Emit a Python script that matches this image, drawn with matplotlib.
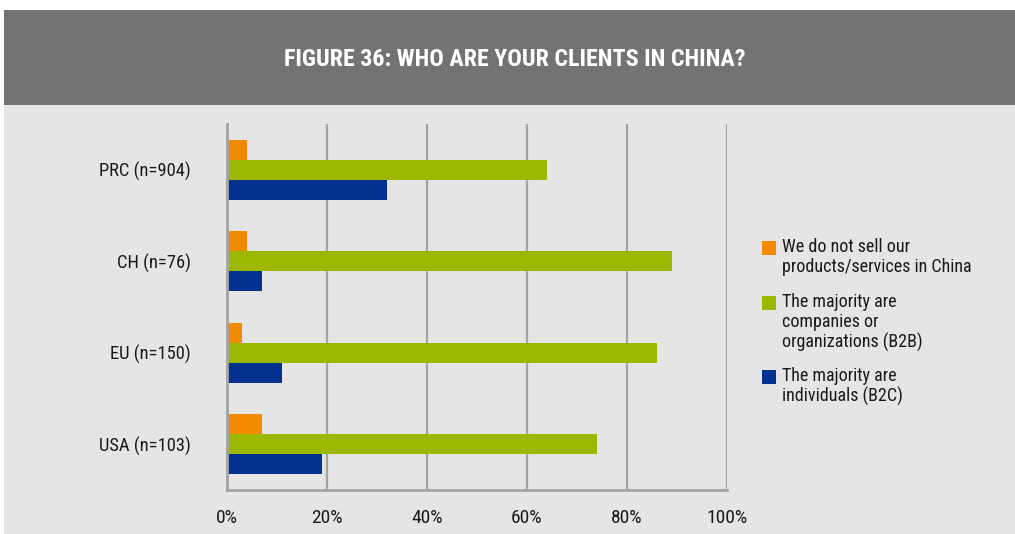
import matplotlib
matplotlib.use("Agg")
import matplotlib.pyplot as plt
from matplotlib.patches import Rectangle
from matplotlib import font_manager
import numpy as np

categories = ["PRC (n=904)", "CH (n=76)", "EU (n=150)", "USA (n=103)"]
not_selling = [4, 4, 3, 7]
b2b = [64, 89, 86, 74]
b2c = [32, 7, 11, 19]
series_labels = [
    "We do not sell our\nproducts/services in China",
    "The majority are\ncompanies or\norganizations (B2B)",
    "The majority are\nindividuals (B2C)",
]
colors = ["#f28a00", "#9cb800", "#02318f"]
xticks = [0, 20, 40, 60, 80, 100]
xticklabels = ["0%", "20%", "40%", "60%", "80%", "100%"]
title = "FIGURE 36: WHO ARE YOUR CLIENTS IN CHINA?"

names = {f.name for f in font_manager.fontManager.ttflist}
if "Roboto Condensed" in names:
    fam, k = "Roboto Condensed", 1.0
elif "Liberation Sans Narrow" in names:
    fam, k = "Liberation Sans Narrow", 0.97
elif "Roboto" in names:
    fam, k = "Roboto", 0.9
else:
    fam, k = "DejaVu Sans", 0.8
plt.rcParams["font.family"] = [fam, "DejaVu Sans"]

W, H = 1015, 534
fig = plt.figure(figsize=(W / 100, H / 100), dpi=100)
fig.patch.set_facecolor("white")

def fx(px):
    return px / W

def fy(py):
    return 1 - py / H

# background panels
fig.patches.append(Rectangle((fx(4), fy(534)), fx(1015 - 4), (534 - 105) / H,
                             transform=fig.transFigure, facecolor="#e5e5e5",
                             edgecolor="none", zorder=0))
fig.patches.append(Rectangle((fx(4), fy(105)), fx(1015 - 4), (105 - 10) / H,
                             transform=fig.transFigure, facecolor="#737373",
                             edgecolor="none", zorder=0))
fig.text(fx(515), fy(59), title, color="white", fontsize=17.3 * k,
         fontweight="bold", ha="center", va="center")

ax = fig.add_axes([fx(227), fy(490), fx(727) - fx(227), (490 - 124) / H])
ax.set_zorder(5)
ax.set_facecolor("none")

y = np.arange(len(categories))
h = 20 / 91.5
series = [not_selling, b2b, b2c]
offsets = [-h, 0, h]
for vals, off, c in zip(series, offsets, colors):
    ax.barh(y + off, vals, height=h, color=c, edgecolor="none", zorder=3)

ax.set_xlim(0, 100)
ax.set_ylim(len(categories) - 0.5, -0.5)
ax.set_yticks(y)
ax.set_yticklabels(categories, fontsize=13.3 * k, color="#1a1a1a")
ax.set_xticks(xticks)
ax.set_xticklabels(xticklabels, fontsize=14 * k, color="#1a1a1a")
ax.tick_params(axis="both", length=0)
ax.tick_params(axis="y", pad=26)
ax.tick_params(axis="x", pad=14)
ax.xaxis.grid(True, color="#a3a3a3", linewidth=1.6, zorder=1)
ax.set_axisbelow(True)
for s in ["top", "right"]:
    ax.spines[s].set_visible(False)
ax.spines["left"].set_color("#a3a3a3")
ax.spines["left"].set_linewidth(2)
ax.spines["left"].set_zorder(4)
ax.spines["bottom"].set_color("#a3a3a3")
ax.spines["bottom"].set_linewidth(2)

# legend drawn manually
patch_tops = [241, 296, 370]
for lab, c, top in zip(series_labels, colors, patch_tops):
    fig.patches.append(Rectangle((fx(762), fy(top + 14)), fx(14), 14 / H,
                                 transform=fig.transFigure, facecolor=c,
                                 edgecolor="none", zorder=2))
    fig.text(fx(782), fy(top - 3), lab, fontsize=13 * k, color="#1a1a1a",
             ha="left", va="top", linespacing=1.14)

fig.savefig("out.png", dpi=100, facecolor=fig.get_facecolor())
